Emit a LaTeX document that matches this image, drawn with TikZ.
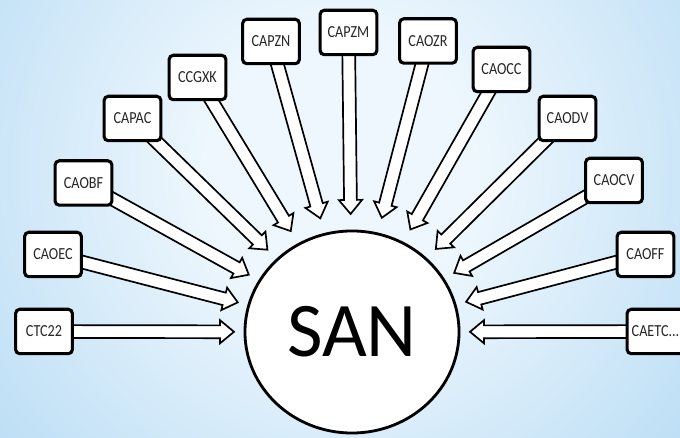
\documentclass[tikz,border=0pt]{standalone}
\usepackage{fontspec}
\setmainfont{Carlito}
\newfontfamily\labelfont[FakeStretch=0.84]{Carlito}
\usepackage{tikz}
\usetikzlibrary{calc,shapes.geometric}
\definecolor{skyin}{RGB}{238,247,253}
\definecolor{skyout}{RGB}{140,198,238}
\pgfdeclareradialshading{sky}{\pgfpoint{0bp}{0bp}}{color(0bp)=(skyin); color(9bp)=(skyin); color(50bp)=(skyout); color(70bp)=(skyout)}
\pgfdeclarelayer{back}
\pgfdeclarelayer{feeds}
\pgfsetlayers{back,feeds,main}
\tikzset{
    site/.style = {draw, fill=white, line width=2.2pt, rounded corners=3pt,
                 minimum width=14.2mm, minimum height=11.1mm, inner sep=0pt,
                 font=\labelfont\fontsize{12}{13}\selectfont, text=black!85},
    hub/.style = {draw, fill=white, ellipse, line width=2pt, inner sep=0pt,
                 minimum width=53.5mm, minimum height=50.5mm,
                 font=\fontsize{55}{60}\selectfont},
    feed/.style = {draw, fill=white, line width=1.2pt, line join=miter},
}

\begin{document}
\begin{tikzpicture}[x=0.025cm,y=-0.025cm]
\useasboundingbox (0,0) rectangle (680,438);
\clip (0,0) rectangle (680,438);
\node (san)   [hub]  at (352,332)   {SAN};
\node (ctc)   [site] at (44,331.5)  {CTC22};
\node (caoec) [site] at (53,254.5)  {CAOEC};
\node (caobf) [site] at (83.5,183)  {CAOBF};
\node (capac) [site] at (132.5,118.5) {CAPAC};
\node (ccgxk) [site] at (197.5,77.5) {CCGXK};
\node (capzn) [site] at (271,41.5)  {CAPZN};
\node (capzm) [site] at (348.5,32.5) {CAPZM};
\node (caozr) [site] at (428,41)    {CAOZR};
\node (caocc) [site] at (501.5,69.5) {CAOCC};
\node (caodv) [site] at (567.5,118.5) {CAODV};
\node (caocv) [site] at (614,180.5) {CAOCV};
\node (caoff) [site] at (645.5,254.5) {CAOFF};
\node (caetc) [site] at (655.5,331.5) {CAETC...};
\begin{pgfonlayer}{back}
\clip (0,0) rectangle (680,438);
\shade[shading=sky] (-30,-200) rectangle (710,540);
\end{pgfonlayer}
\begin{pgfonlayer}{feeds}
\clip (0,0) rectangle (680,438);
\foreach \src in {ctc,caoec,caobf,capac,ccgxk,capzn,capzm,caozr,caocc,caodv,caocv,caoff,caetc}{
  \coordinate (tip)  at ($(san.center)!29.5mm!(\src.center)$);
  \coordinate (neck) at ($(san.center)!33mm!(\src.center)$);
  \draw[feed] ($(\src.center)!1.6mm!-90:(san.center)$) -- ($(neck)!1.6mm!90:(\src.center)$)
    -- ($(neck)!2.9mm!90:(\src.center)$) -- (tip) -- ($(neck)!2.9mm!-90:(\src.center)$)
    -- ($(neck)!1.6mm!-90:(\src.center)$) -- ($(\src.center)!1.6mm!90:(san.center)$) -- cycle;
}
\end{pgfonlayer}
\end{tikzpicture}
\end{document}
